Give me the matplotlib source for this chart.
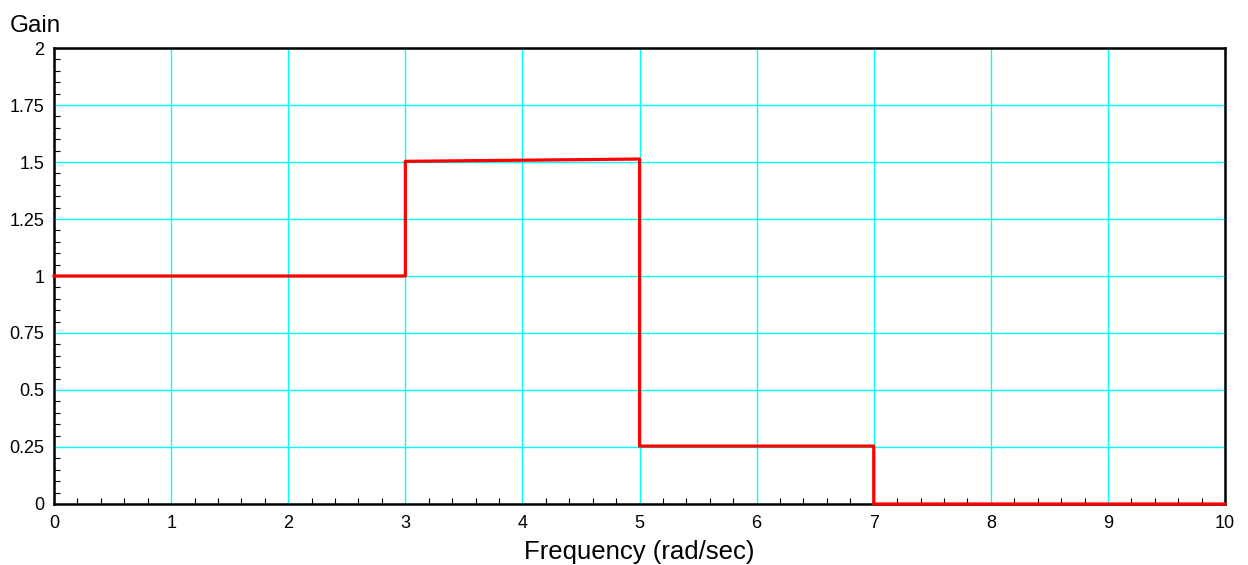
import matplotlib
matplotlib.use("Agg")
import matplotlib.pyplot as plt
from matplotlib.ticker import MultipleLocator, FuncFormatter

# step response of the filter gain
freq = [0, 3, 3, 5, 5, 7, 7, 10]
gain = [1.0, 1.0, 1.503, 1.513, 0.254, 0.254, 0.0, 0.0]

x_ticks = list(range(0, 11))
y_ticks = [0, 0.25, 0.5, 0.75, 1, 1.25, 1.5, 1.75, 2]

plt.rcParams["font.family"] = ["Liberation Sans", "DejaVu Sans"]

fig = plt.figure(figsize=(12.48, 5.65), dpi=100)
ax = fig.add_axes([0.0433, 0.108, 0.9383, 0.807])

ax.plot(freq, gain, color="#ff0000", linewidth=2.3, zorder=3, clip_on=False)

ax.set_xlim(0, 10)
ax.set_ylim(0, 2)
ax.set_xticks(x_ticks)
ax.set_yticks(y_ticks)
ax.xaxis.set_minor_locator(MultipleLocator(0.2))
ax.yaxis.set_minor_locator(MultipleLocator(0.05))
ax.yaxis.set_major_formatter(FuncFormatter(lambda v, p: f"{v:g}"))

ax.grid(True, which="major", color="#00ffff", linewidth=1.0, zorder=1)
ax.tick_params(which="both", direction="in", top=False, right=False,
               labelsize=13, color="black")
ax.tick_params(axis="x", which="major", length=0, pad=8)
ax.tick_params(axis="y", which="major", length=0, pad=7)
ax.tick_params(which="minor", length=4, width=0.8)

for side in ["left", "bottom", "top", "right"]:
    ax.spines[side].set_linewidth(1.8)
    ax.spines[side].set_color("black")

ax.set_xlabel("Frequency (rad/sec)", fontsize=18.5, labelpad=6)
fig.text(0.008, 0.935, "Gain", fontsize=17.5, ha="left", va="bottom")

fig.savefig("out.png", dpi=100)
